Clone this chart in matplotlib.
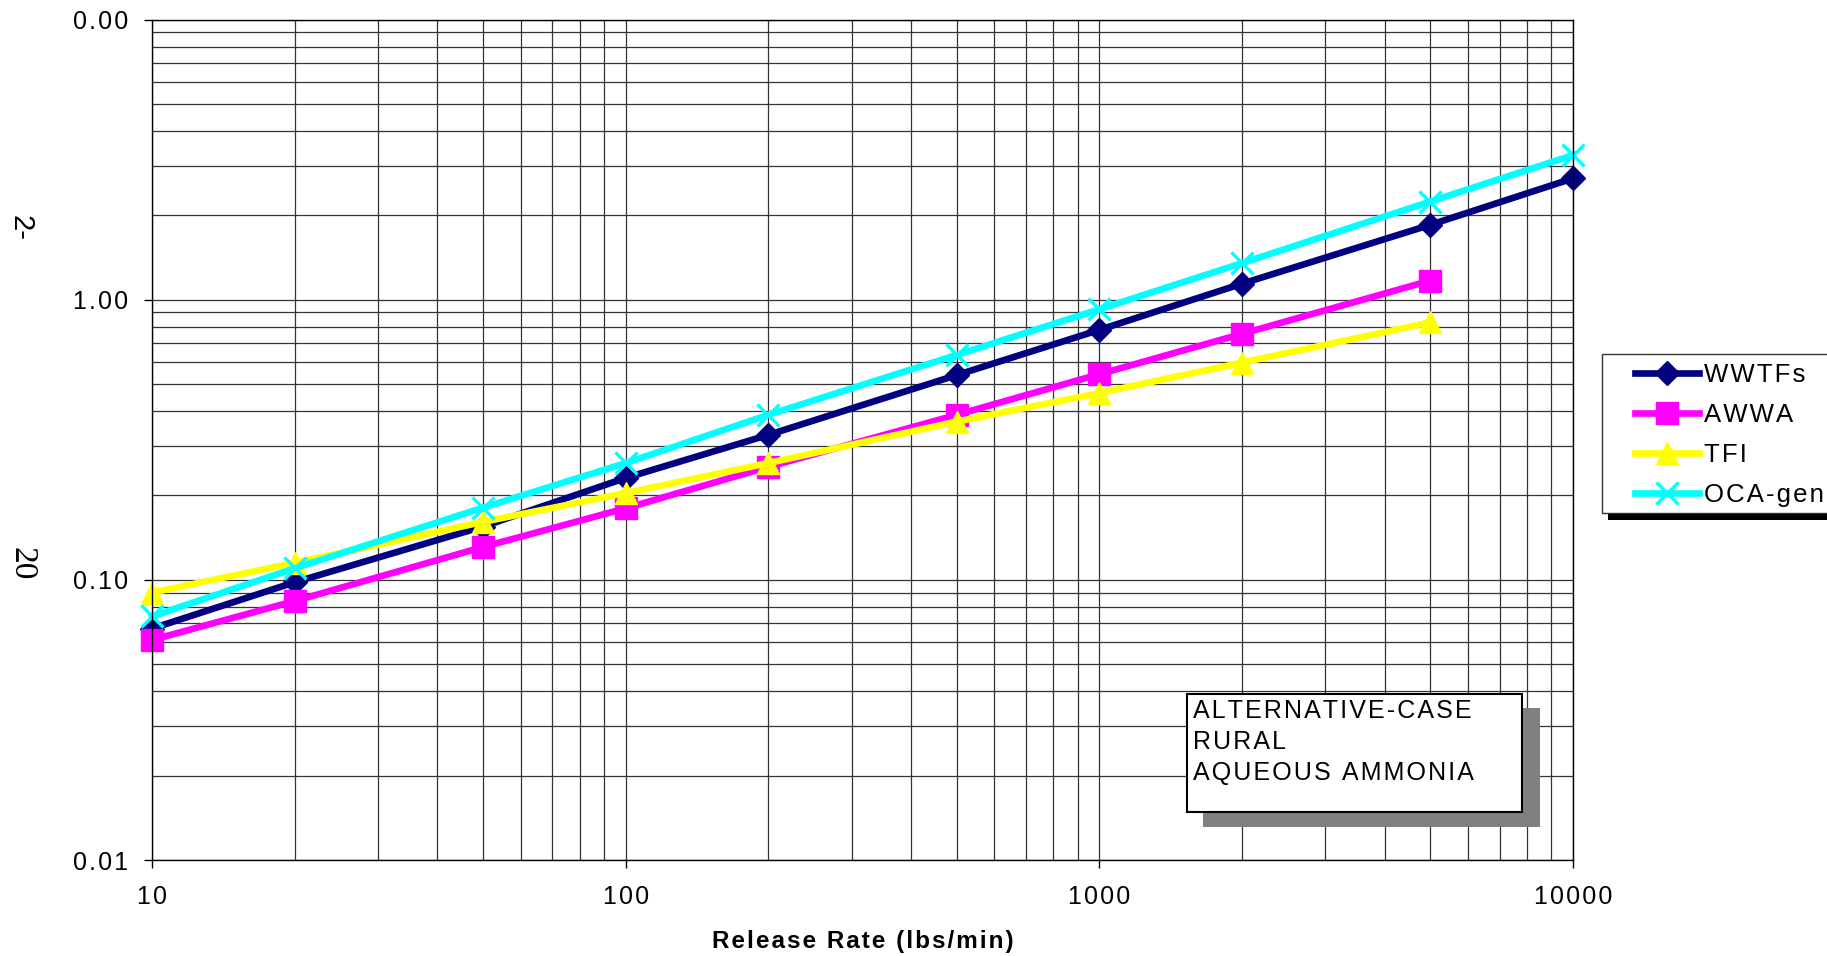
import matplotlib
matplotlib.use('Agg')
import matplotlib.pyplot as plt
from matplotlib.patches import Rectangle
from matplotlib.ticker import FixedLocator, FixedFormatter, LogLocator, NullFormatter

plt.rcParams['font.family'] = ['Liberation Sans', 'DejaVu Sans']

W, H = 1827, 956

# data
release_rate = [10, 20, 50, 100, 200, 500, 1000, 2000, 5000, 10000]
wwtfs = [0.067, 0.098, 0.155, 0.231, 0.329, 0.538, 0.78, 1.14, 1.85, 2.71]
awwa = [0.061, 0.084, 0.131, 0.180, 0.253, 0.388, 0.542, 0.755, 1.17]
tfi = [0.090, 0.115, 0.161, 0.204, 0.261, 0.367, 0.464, 0.596, 0.83]
oca = [0.074, 0.110, 0.181, 0.261, 0.388, 0.635, 0.924, 1.35, 2.24, 3.28]

series_names = ['WWTFs', 'AWWA', 'TFI', 'OCA-generic']
x_ticks = [10, 100, 1000, 10000]
x_tick_labels = ['10', '100', '1000', '10000']
y_ticks = [0.01, 0.1, 1, 10]
y_tick_labels = ['0.01', '0.10', '1.00', '0.00']
box_lines = ['ALTERNATIVE-CASE', 'RURAL', 'AQUEOUS AMMONIA']
x_label = 'Release Rate (lbs/min)'


def fx(px):
    return px / W


def fy(py):
    return 1 - py / H


def spaced(s):
    # rough letter spacing, like the exported original
    return '\u200a'.join(s)


fig = plt.figure(figsize=(W / 100, H / 100), dpi=100)
ax = fig.add_axes([fx(152), fy(860), fx(1573) - fx(152), fy(19.5) - fy(860)])

styles = [
    dict(color='#000080', marker='D', ms=12),
    dict(color='#FF00FF', marker='s', ms=16),
    dict(color='#FFFF00', marker='^', ms=16),
    dict(color='#00FFFF', marker='x', ms=16, mew=2.4),
]
series = [wwtfs, awwa, tfi, oca]
handles = []
for name, vals, st in zip(series_names, series, styles):
    h, = ax.plot(release_rate[:len(vals)], vals, lw=4.8, label=spaced(name),
                 clip_on=False, **st)
    handles.append(h)

ax.set_xscale('log')
ax.set_yscale('log')
ax.set_xlim(10, 10000)
ax.set_ylim(0.01, 10)

ax.xaxis.set_major_locator(FixedLocator(x_ticks))
ax.xaxis.set_major_formatter(FixedFormatter([spaced(t) for t in x_tick_labels]))
ax.yaxis.set_major_locator(FixedLocator(y_ticks))
ax.yaxis.set_major_formatter(FixedFormatter([spaced(t) for t in y_tick_labels]))
ax.xaxis.set_minor_locator(LogLocator(base=10, subs=range(2, 10)))
ax.yaxis.set_minor_locator(LogLocator(base=10, subs=range(2, 10)))
ax.xaxis.set_minor_formatter(NullFormatter())
ax.yaxis.set_minor_formatter(NullFormatter())

ax.tick_params(which='major', direction='out', length=6, width=1, labelsize=18,
               color='black')
ax.tick_params(axis='y', which='major', pad=11)
ax.tick_params(axis='x', which='major', pad=12)
ax.tick_params(which='minor', length=0)
ax.grid(True, which='both', color='#333333', lw=0.9)
ax.set_axisbelow(True)
for sp in ax.spines.values():
    sp.set_color('black')
    sp.set_linewidth(1)

ax.set_xlabel(spaced(x_label), fontsize=17.5, fontweight='bold', labelpad=15)

# legend with its own frame and black shadow
fig.patches.append(Rectangle((fx(1608), fy(520)), fx(1900) - fx(1608), fy(360) - fy(520),
                             transform=fig.transFigure, facecolor='black', edgecolor='none',
                             zorder=1))
fig.patches.append(Rectangle((fx(1602), fy(513)), fx(1900) - fx(1602), fy(354) - fy(513),
                             transform=fig.transFigure, facecolor='white', edgecolor='#333333',
                             lw=1, zorder=2))
fig.legend(handles=handles, loc='upper left', bbox_to_anchor=(fx(1622), fy(350)),
           bbox_transform=fig.transFigure, frameon=False, fontsize=18.5, borderpad=0,
           handlelength=2.5, handletextpad=0.2, labelspacing=0.62)

# annotation box with gray shadow
ax.add_patch(Rectangle((fx(1203), fy(827)), fx(1540) - fx(1203), fy(708) - fy(827),
                       transform=fig.transFigure, facecolor='#808080', edgecolor='none',
                       zorder=3, clip_on=False))
ax.add_patch(Rectangle((fx(1187), fy(812)), fx(1522) - fx(1187), fy(694) - fy(812),
                       transform=fig.transFigure, facecolor='white', edgecolor='black',
                       lw=1.5, zorder=4, clip_on=False))
for i, line in enumerate(box_lines):
    fig.text(fx(1193), fy(718 + 31 * i), spaced(line), fontsize=18, va='baseline',
             ha='left', zorder=5)

# stray page marks at the left edge
fig.text(fx(20), fy(228), '2-', fontsize=21, rotation=-90, ha='center', va='center')
fig.text(fx(22), fy(564), '20', fontsize=24, rotation=-90, ha='center', va='center',
         family=['Liberation Serif', 'DejaVu Serif'])

fig.savefig('out.png', dpi=100)
